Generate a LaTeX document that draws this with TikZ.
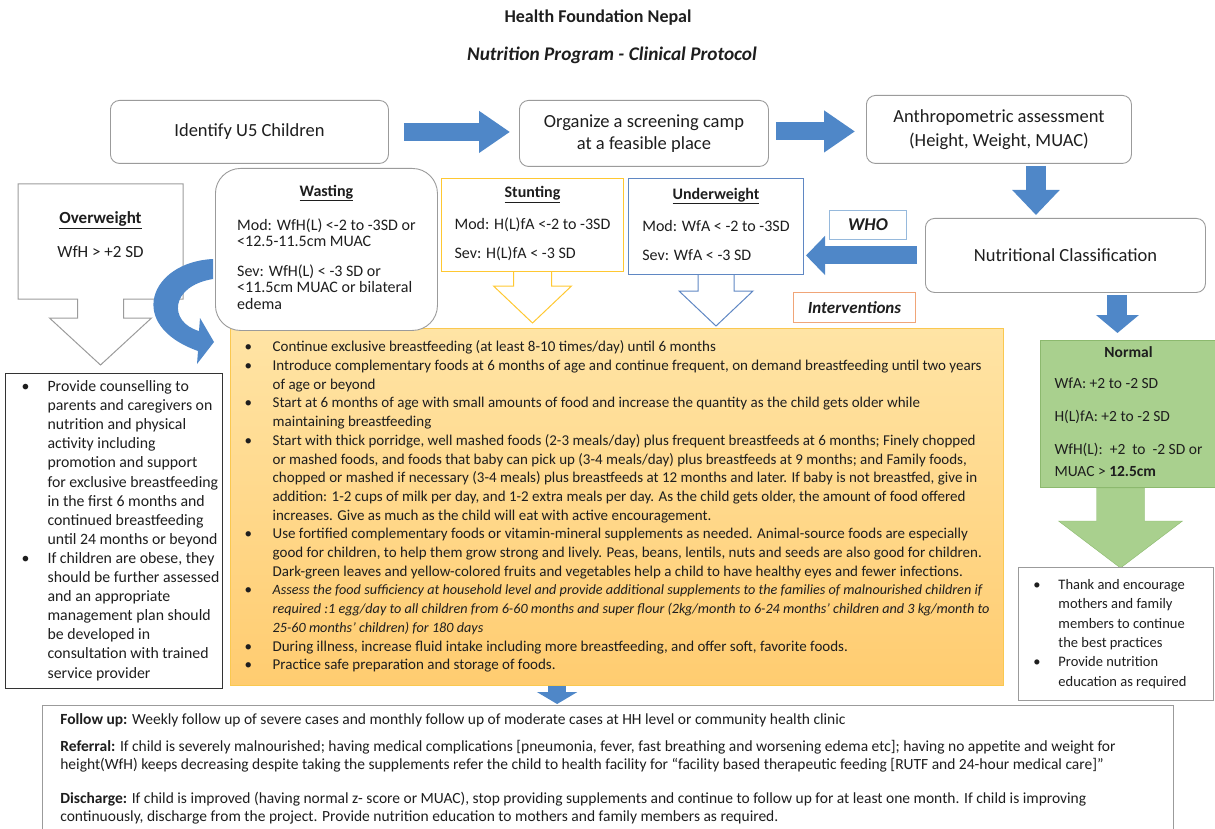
\documentclass[tikz,border=0pt]{standalone}
\usepackage{fontspec}
\setmainfont{Carlito}
\usetikzlibrary{arrows.meta,calc}

\definecolor{ink}{RGB}{30,30,30}
\definecolor{arrowblue}{RGB}{79,135,200}
\definecolor{boxgray}{RGB}{155,155,155}
\definecolor{stuntyellow}{RGB}{255,200,50}
\definecolor{underblue}{RGB}{95,135,195}
\definecolor{whoblue}{RGB}{150,185,220}
\definecolor{intorange}{RGB}{240,165,120}
\definecolor{feedtop}{RGB}{255,228,165}
\definecolor{feedbottom}{RGB}{255,204,112}
\definecolor{feedborder}{RGB}{250,200,80}
\definecolor{normalgreen}{RGB}{169,208,142}
\definecolor{normalborder}{RGB}{140,185,110}

\begin{document}
\begin{tikzpicture}[x=1pt,y=-1pt,
  every node/.style={inner sep=0pt, text=ink},
  rbox/.style={draw=boxgray, line width=0.9pt, rounded corners=9pt, fill=white, anchor=north west, align=center, font=\fontsize{18.5}{22}\selectfont},
  plainbox/.style={draw=#1, line width=1pt, fill=white, anchor=north west},
  barrow/.style={arrowblue, line width=18pt, -{Triangle[length=31pt,width=40pt]}},
  hollow/.style={draw=#1, line width=1pt}]
\useasboundingbox (0,0) rectangle (1215,829);

% title
\node[font=\bfseries\fontsize{18}{20}\selectfont] (title) at (598,18) {Health Foundation Nepal};
\node[font=\bfseries\itshape\fontsize{19.3}{20}\selectfont] (subtitle) at (612,55) {Nutrition Program - Clinical Protocol};

% interventions
\node[draw=feedborder, line width=1.2pt, top color=feedtop, bottom color=feedbottom, anchor=north west,
  minimum width=773pt, minimum height=357pt, font=\fontsize{15}{18.7}\selectfont] (feeding) at (230,328) {%
\begin{tabular}{@{}p{28pt}@{}l@{}}
\textbullet & Continue exclusive breastfeeding (at least 8-10 times/day) until 6 months\\
\textbullet & Introduce complementary foods at 6 months of age and continue frequent, on demand breastfeeding until two years\\
 & of age or beyond\\
\textbullet & Start at 6 months of age with small amounts of food and increase the quantity as the child gets older while\\
 & maintaining breastfeeding\\
\textbullet & Start with thick porridge, well mashed foods (2-3 meals/day) plus frequent breastfeeds at 6 months; Finely chopped\\
 & or mashed foods, and foods that baby can pick up (3-4 meals/day) plus breastfeeds at 9 months; and Family foods,\\
 & chopped or mashed if necessary (3-4 meals) plus breastfeeds at 12 months and later. If baby is not breastfed, give in\\
 & addition: 1-2 cups of milk per day, and 1-2 extra meals per day. As the child gets older, the amount of food offered\\
 & increases. Give as much as the child will eat with active encouragement.\\
\textbullet & Use fortified complementary foods or vitamin-mineral supplements as needed. Animal-source foods are especially\\
 & good for children, to help them grow strong and lively. Peas, beans, lentils, nuts and seeds are also good for children.\\
 & Dark-green leaves and yellow-colored fruits and vegetables help a child to have healthy eyes and fewer infections.\\
\textbullet & \itshape\fontsize{14.2}{18.7}\selectfont Assess the food sufficiency at household level and provide additional supplements to the families of malnourished children if\\
 & \itshape\fontsize{14.2}{18.7}\selectfont required :1 egg/day to all children from 6-60 months and super flour (2kg/month to 6-24 months’ children and 3 kg/month to\\
 & \itshape\fontsize{14.2}{18.7}\selectfont 25-60 months’ children) for 180 days\\
\textbullet & During illness, increase fluid intake including more breastfeeding, and offer soft, favorite foods.\\
\textbullet & Practice safe preparation and storage of foods.
\end{tabular}};

% top row
\node[rbox, minimum width=278pt, minimum height=63pt] (identify) at (110,100) {Identify U5 Children};
\node[rbox, minimum width=249pt, minimum height=66pt] (camp) at (519,100) {Organize a screening camp\\at a feasible place};
\node[rbox, minimum width=265pt, minimum height=68pt, font=\fontsize{18.5}{24}\selectfont] (anthro) at (866,95) {Anthropometric assessment\\(Height, Weight, MUAC)};
\node[rbox, minimum width=280pt, minimum height=74pt] (nutri) at (925,218) {Nutritional Classification};

\node[plainbox=whoblue, minimum width=77pt, minimum height=29pt, font=\bfseries\itshape\fontsize{18}{20}\selectfont] (who) at (829,210) {WHO};
\node[plainbox=intorange, minimum width=122pt, minimum height=30pt, font=\bfseries\itshape\fontsize{17}{18}\selectfont] (interv) at (793,292) {Interventions};

% classification boxes
\draw[hollow=boxgray] (18,184) -- ++(165,0) -- ++(0,115) -- ++(-59.5,0) -- ++(0,19) -- ++(28,0) -- ++(-51,47)
  -- ++(-51,-47) -- ++(28,0) -- ++(0,-19) -- ++(-59.5,0) -- cycle;
\node[align=center, font=\fontsize{17}{20}\selectfont] (over) at (100.5,235) {\underline{\textbf{Overweight}}\\[14pt]WfH > +2 SD};

\node[draw=boxgray, line width=0.9pt, rounded corners=25pt, fill=white, anchor=north west, minimum width=222pt,
  minimum height=162pt, font=\fontsize{16}{16.5}\selectfont] (wasting) at (215,168) {%
\begin{tabular}{@{}l@{}}
\multicolumn{1}{@{}c@{}}{\underline{\textbf{Wasting}}}\\[17.5pt]
Mod: WfH(L) <-2 to -3SD or\\
<12.5-11.5cm MUAC\\[12.5pt]
Sev: WfH(L) < -3 SD or\\
<11.5cm MUAC or bilateral\\
edema
\end{tabular}};

\node[plainbox=stuntyellow, minimum width=182pt, minimum height=93pt, font=\fontsize{16}{16.5}\selectfont] (stunt) at (441,178) {%
\begin{tabular}{@{}l@{}}
\multicolumn{1}{@{}c@{}}{\underline{\textbf{Stunting}}}\\[15.5pt]
Mod: H(L)fA <-2 to -3SD\\[12.5pt]
Sev: H(L)fA < -3 SD
\end{tabular}};
\draw[hollow=stuntyellow] ($(stunt.south)+(-19,0)$) -- ++(0,14) -- ++(-20,0) -- ++(39,37) -- ++(39,-37) -- ++(-20,0) -- ++(0,-14);

\node[plainbox=underblue, minimum width=175pt, minimum height=96pt, font=\fontsize{16}{16.5}\selectfont] (under) at (628,178) {%
\begin{tabular}{@{}l@{}}
\multicolumn{1}{@{}c@{}}{\underline{\textbf{Underweight}}}\\[15.5pt]
Mod: WfA < -2 to -3SD\\[12.5pt]
Sev: WfA < -3 SD
\end{tabular}};
\draw[hollow=underblue] ($(under.south)+(-18,0)$) -- ++(0,16) -- ++(-19,0) -- ++(37,35) -- ++(37,-35) -- ++(-19,0) -- ++(0,-16);

% overweight advice
\node[draw=black!80, line width=1pt, fill=white, anchor=north west, minimum width=217pt, minimum height=315pt,
  font=\fontsize{15.8}{19.1}\selectfont] (obese) at (5,373) {%
\begin{tabular}{@{\hspace{13pt}}p{26pt}@{}l@{}}
\textbullet & Provide counselling to\\
 & parents and caregivers on\\
 & nutrition and physical\\
 & activity including\\
 & promotion and support\\
 & for exclusive breastfeeding\\
 & in the first 6 months and\\
 & continued breastfeeding\\
 & until 24 months or beyond\\
\textbullet & If children are obese, they\\
 & should be further assessed\\
 & and an appropriate\\
 & management plan should\\
 & be developed in\\
 & consultation with trained\\
 & service provider
\end{tabular}};

% normal
\node[draw=normalborder, line width=1pt, fill=normalgreen, anchor=north west, minimum width=176pt, minimum height=147pt,
  font=\fontsize{15.5}{17}\selectfont] (normal) at (1040,340) {%
\begin{tabular}{@{}l@{}}
\multicolumn{1}{@{}c@{}}{\textbf{Normal}}\\[14pt]
WfA: +2 to -2 SD\\[16pt]
H(L)fA: +2 to -2 SD\\[16pt]
WfH(L):\ \ +2\ \ to\ \ -2 SD\ or\\[5pt]
MUAC > \textbf{12.5cm}
\end{tabular}};
\filldraw[fill=normalgreen, draw=normalborder] ($(normal.south)+(-32,0)$) -- ++(0,33) -- ++(-38,0) -- ++(62,47)
  -- ++(62,-47) -- ++(-38,0) -- ++(0,-33) -- cycle;

\node[draw=boxgray, line width=1pt, fill=white, anchor=north west, minimum width=195pt, minimum height=133pt,
  font=\fontsize{14.5}{19.4}\selectfont] (thank) at (1018,567) {%
\begin{tabular}{@{}p{25pt}@{}l@{\hspace{12pt}}}
\textbullet & Thank and encourage\\
 & mothers and family\\
 & members to continue\\
 & the best practices\\
\textbullet & Provide nutrition\\
 & education as required
\end{tabular}};

% follow up
\node[draw=boxgray, line width=1pt, fill=white, anchor=north west, minimum width=1131pt, minimum height=128pt,
  font=\fontsize{15.5}{18}\selectfont] (followup) at (42,705) {%
\begin{tabular}{@{}l@{\hspace{40pt}}}
\textbf{Follow up:} Weekly follow up of severe cases and monthly follow up of moderate cases at HH level or community health clinic\\[9pt]
\textbf{Referral:} If child is severely malnourished; having medical complications [pneumonia, fever, fast breathing and worsening edema etc]; having no appetite and weight for\\
height(WfH) keeps decreasing despite taking the supplements refer the child to health facility for “facility based therapeutic feeding [RUTF and 24-hour medical care]”\\[16pt]
\textbf{Discharge:} If child is improved (having normal z- score or MUAC), stop providing supplements and continue to follow up for at least one month. If child is improving\\
continuously, discharge from the project. Provide nutrition education to mothers and family members as required.
\end{tabular}};

% block arrows
\draw[barrow] ($(identify.east)+(15,0)$) -- ($(identify.east -| camp.west)+(-9,0)$);
\draw[barrow] ($(camp.east)+(7,-2)$) -- ($(camp.east -| anthro.west)+(-11,-2)$);
\draw[barrow, line width=20pt, -{Triangle[length=25pt,width=46pt]}] ($(anthro.south)+(37,2)$) -- ($(anthro.south |- nutri.north)+(37,-3)$);
\draw[barrow, -{Triangle[length=19pt,width=38pt]}] ($(nutri.west)+(-8,0)$) -- ($(nutri.west -| under.east)+(2,0)$);
\draw[barrow, line width=20pt, -{Triangle[length=18pt,width=42pt]}] ($(nutri.south)+(52,2)$) -- ($(nutri.south |- normal.north)+(52,-7)$);
\draw[barrow, -{Triangle[length=12pt,width=40pt]}] ($(feeding.south)+(-60,0)$) -- ($(feeding.south |- followup.north)+(-60,-1)$);

% curved arrow from wasting
\fill[arrowblue] (213,259) .. controls (150,262) and (125,325) .. (198,351) -- (197,364) -- (214,342) -- (200,318) -- (199,331)
  .. controls (168,322) and (170,286) .. (213,279) -- cycle;
\end{tikzpicture}
\end{document}
